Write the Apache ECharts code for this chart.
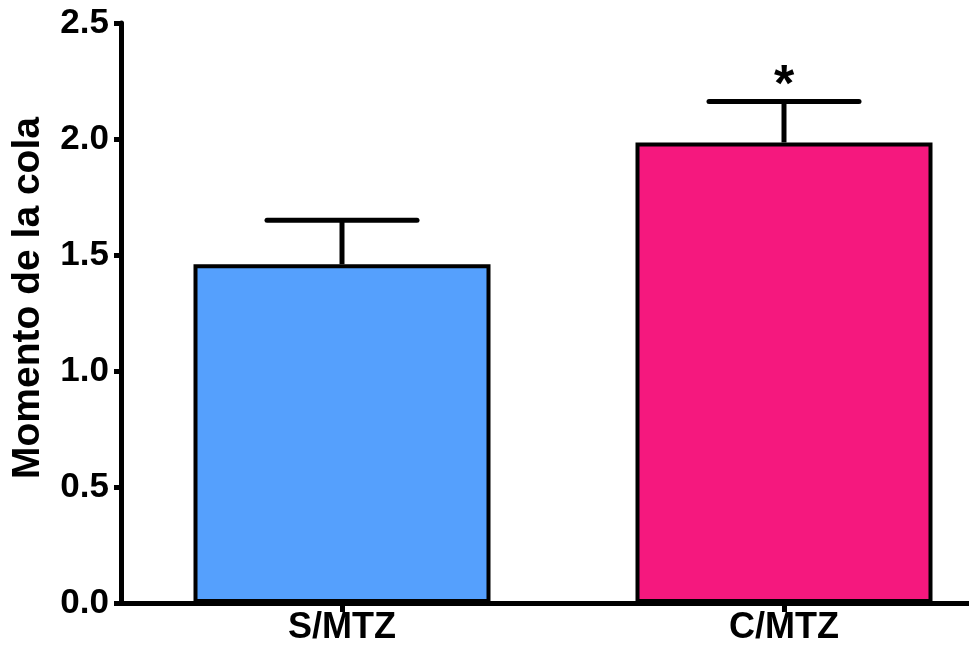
<!DOCTYPE html>
<html><head><meta charset="utf-8">
<script src="https://cdn.jsdelivr.net/npm/echarts@6/dist/echarts.min.js"></script>
<style>html,body{margin:0;padding:0;background:#fff}#c{width:969px;height:651px}</style>
</head><body><div id="c"></div>
<script>
const categories = ['S/MTZ', 'C/MTZ'];
const means = [1.46, 1.985];
const errUpper = [1.65, 2.162];
const barColors = ['#55a0fd', '#f5187e'];
const significance = ['', '*'];
const yTicks = [0, 0.5, 1.0, 1.5, 2.0, 2.5];

const chart = echarts.init(document.getElementById('c'));
const FONT = '"Liberation Sans", Arial, sans-serif';
chart.setOption({
  animation: false,
  grid: { left: 121, top: 23, width: 884, bottom: 48, containLabel: false, outerBoundsMode: 'none' },
  xAxis: {
    type: 'category', data: categories,
    axisLine: { lineStyle: { color: '#000', width: 5 } },
    axisTick: { show: true, alignWithLabel: true, length: 9, lineStyle: { color: '#000', width: 5 },
      interval: 0 },
    axisLabel: { color: '#000', fontFamily: FONT, fontWeight: 'bold', fontSize: 36, margin: 7 }
  },
  yAxis: {
    type: 'value', min: 0, max: 2.5, interval: 0.5,
    name: 'Momento de la cola', nameLocation: 'middle', nameGap: 73,
    nameTextStyle: { color: '#000', fontFamily: FONT, fontWeight: 'bold', fontSize: 39,
      padding: [0, 0, 0, 30] },
    axisLine: { show: true, lineStyle: { color: '#000', width: 5 } },
    axisTick: { show: true, length: 7, lineStyle: { color: '#000', width: 5 } },
    splitLine: { show: false },
    axisLabel: { color: '#000', fontFamily: FONT, fontWeight: 'bold', fontSize: 35, margin: 12,
      formatter: v => yTicks.includes(v) ? v.toFixed(1) : '' }
  },
  series: [
    {
      type: 'bar', barWidth: 297,
      data: means.map((v, i) => ({ value: v, itemStyle: { color: barColors[i] } })),
      itemStyle: { borderColor: '#000', borderWidth: 4 },
      z: 2
    },
    {
      type: 'custom', z: 3,
      data: means.map((v, i) => [i, v, errUpper[i], significance[i]]),
      renderItem: (params, api) => {
        const i = api.value(0);
        const base = api.coord([i, api.value(1)]);
        const top = api.coord([i, api.value(2)]);
        const half = 75;
        const children = [
          { type: 'line', shape: { x1: base[0], y1: base[1], x2: top[0], y2: top[1] },
            style: { stroke: '#000', lineWidth: 5 } },
          { type: 'line', shape: { x1: top[0] - half, y1: top[1], x2: top[0] + half, y2: top[1] },
            style: { stroke: '#000', lineWidth: 5, lineCap: 'round' } }
        ];
        const s = significance[params.dataIndex];
        if (s) {
          children.push({ type: 'text', style: { text: s, x: top[0], y: top[1] + 11,
            align: 'center', verticalAlign: 'bottom', fill: '#000',
            font: 'bold 52px ' + FONT } });
        }
        return { type: 'group', children };
      }
    }
  ]
});
</script></body></html>
